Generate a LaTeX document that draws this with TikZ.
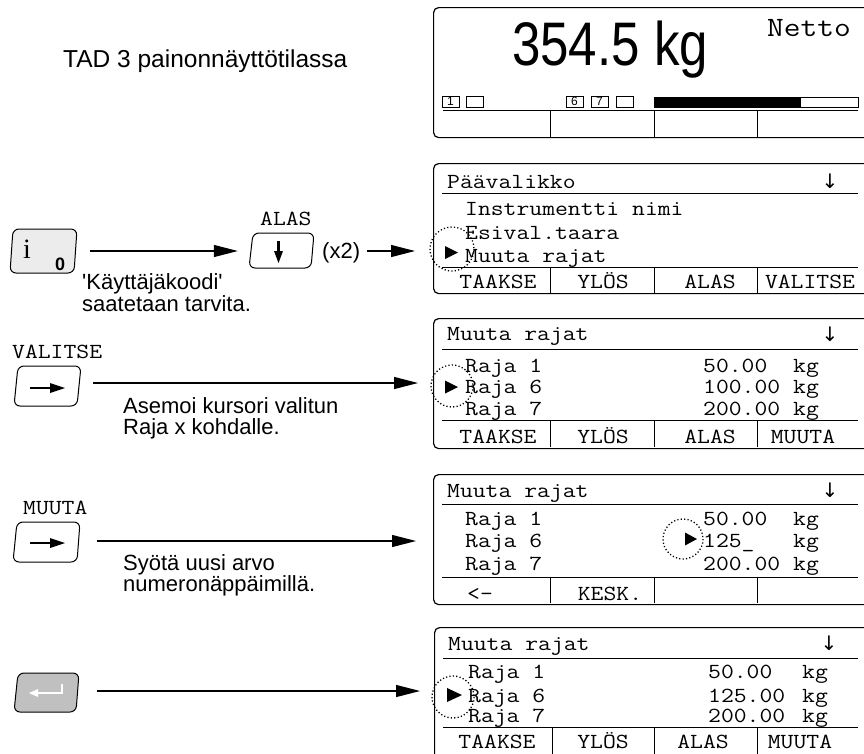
\documentclass[tikz,border=0pt]{standalone}
\usepackage{fontspec}
\setmainfont{Liberation Sans}[Ligatures=TeXOff]
\newfontfamily\serifi{Liberation Serif}
\newfontfamily\arrowfont{DejaVu Sans}
\usetikzlibrary{arrows.meta}
\definecolor{keylight}{RGB}{236,236,236}
\definecolor{keydark}{RGB}{192,192,192}
\newcommand\mt[1]{\scalebox{1.16}[1]{#1}}
\begin{document}
\begin{tikzpicture}[x=1pt,y=-1pt,
  mono/.style={font=\fontsize{21.5}{21.5}\selectfont\ttfamily, inner sep=0pt, anchor=base west},
  monoc/.style={mono, anchor=base},
  sans/.style={font=\fontsize{22}{22}\selectfont, inner sep=0pt, anchor=base west},
  disp/.style={draw, line width=1.2pt, rounded corners=5pt, inner sep=0pt, anchor=north west, minimum width=460pt, minimum height=130pt},
  rule/.style={line width=0.9pt},
  conn/.style={line width=1.2pt, -{Triangle[length=24pt,width=12pt]}},
  ring/.style={line width=1.3pt, dash pattern=on 1.2pt off 2.2pt},
  keyframe/.style={line width=1pt, rounded corners=6pt},
  keynode/.style={inner sep=0pt, minimum width=62pt, minimum height=40pt},
  sbox/.style={draw, line width=0.8pt, inner sep=0pt, minimum width=17pt, minimum height=11pt, font=\fontsize{12}{12}\selectfont},
  ar/.style={font=\arrowfont\fontsize{20}{20}\selectfont, inner sep=0pt, anchor=base}
]
\useasboundingbox (0,0) rectangle (864,753);
\clip (0,0) rectangle (864,753);

% ---------- title
\node[font=\fontsize{24.5}{24.5}\selectfont, inner sep=0pt, anchor=base west] (title) at (63,67) {TAD 3 painonnäyttötilassa};

% ---------- display 1
\node[disp] (d1) at (433,7) {};
\node[font=\fontsize{61.5}{61.5}\selectfont, inner sep=0pt, anchor=base west] (weight) at (512,65) {\scalebox{0.83}[1]{354.5 kg}};
\node[font=\fontsize{28}{28}\selectfont\ttfamily, inner sep=0pt, anchor=base west] (netto) at (767,36) {\mt{Netto}};
\node[sbox] (b1) at (450.5,101.5) {1};
\node[sbox] (b2) at (475,101.5) {};
\node[sbox] (b6) at (574.5,101.5) {6};
\node[sbox] (b7) at (599.5,101.5) {7};
\node[sbox] (b8) at (624.5,101.5) {};
\draw[line width=0.8pt] (654,97) rectangle (858,107);
\fill (654,97) rectangle (801,107);
\draw[rule] (443,110) -- (858,110);
\foreach \x in {550,654,757} \draw[rule] (\x,110) -- (\x,137);

% ---------- display 2
\node[disp] (d2) at (433,163) {};
\draw[rule] (442,193) -- (858,193);
\draw[rule] (442,267) -- (858,267);
\foreach \x in {550,654,757} \draw[rule] (\x,267) -- (\x,293);
\node[mono] (d2h) at (447,188) {\mt{Päävalikko}};
\node[ar] (d2a) at (830,188) {↓};
\node[mono] (d2r1) at (465,215) {\mt{Instrumentti nimi}};
\node[mono] (d2r2) at (465,239) {\mt{Esival.taara}};
\node[mono] (d2r3) at (465,262) {\mt{Muuta rajat}};
\node[monoc] (d2f1) at (498,288) {\mt{TAAKSE}};
\node[monoc] (d2f2) at (603,288) {\mt{YLÖS}};
\node[monoc] (d2f3) at (710,288) {\mt{ALAS}};
\node[monoc] (d2f4) at (810,288) {\mt{VALITSE}};
\fill (445,246) -- (458,252.5) -- (445,259) -- cycle;
\draw[ring] (452,249) circle[radius=22];

% ---------- display 3
\node[disp] (d3) at (433,318) {};
\draw[rule] (442,349) -- (858,349);
\draw[rule] (442,420) -- (858,420);
\foreach \x in {550,654,757} \draw[rule] (\x,420) -- (\x,447);
\node[mono] (d3h) at (447,340) {\mt{Muuta rajat}};
\node[ar] (d3a) at (830,341) {↓};
\node[mono] (d3r1) at (465,372) {\mt{Raja 1}};
\node[mono] (d3r2) at (465,393) {\mt{Raja 6}};
\node[mono] (d3r3) at (465,415) {\mt{Raja 7}};
\node[mono] (d3v1) at (703,372) {\mt{50.00}};
\node[mono] (d3v2) at (703,393) {\mt{100.00}};
\node[mono] (d3v3) at (703,415) {\mt{200.00}};
\node[mono] (d3k1) at (793,372) {\mt{kg}};
\node[mono] (d3k2) at (793,393) {\mt{kg}};
\node[mono] (d3k3) at (793,415) {\mt{kg}};
\node[monoc] (d3f1) at (498,443) {\mt{TAAKSE}};
\node[monoc] (d3f2) at (603,443) {\mt{YLÖS}};
\node[monoc] (d3f3) at (710,443) {\mt{ALAS}};
\node[monoc] (d3f4) at (803,443) {\mt{MUUTA}};
\fill (445,380.5) -- (458,387) -- (445,393.5) -- cycle;
\draw[ring] (452,386) circle[radius=21];

% ---------- display 4
\node[disp] (d4) at (433,474) {};
\draw[rule] (442,504) -- (858,504);
\draw[rule] (442,577) -- (858,577);
\foreach \x in {550,654,757} \draw[rule] (\x,577) -- (\x,603);
\node[mono] (d4h) at (447,497) {\mt{Muuta rajat}};
\node[ar] (d4a) at (830,497) {↓};
\node[mono] (d4r1) at (465,525) {\mt{Raja 1}};
\node[mono] (d4r2) at (465,547) {\mt{Raja 6}};
\node[mono] (d4r3) at (465,570) {\mt{Raja 7}};
\node[mono] (d4v1) at (703,525) {\mt{50.00}};
\node[mono] (d4v2) at (703,547) {\mt{125\_}};
\node[mono] (d4v3) at (703,570) {\mt{200.00}};
\node[mono] (d4k1) at (793,525) {\mt{kg}};
\node[mono] (d4k2) at (793,547) {\mt{kg}};
\node[mono] (d4k3) at (793,570) {\mt{kg}};
\node[monoc] (d4f1) at (480,600) {\mt{<-}};
\node[monoc] (d4f2) at (610,600) {\mt{KESK.}};
\fill (685,532.5) -- (697,539) -- (685,545.5) -- cycle;
\draw[ring] (683,539) circle[radius=20];

% ---------- display 5
\node[disp, minimum height=170pt] (d5) at (434,627) {};
\draw[rule] (443,658) -- (858,658);
\draw[rule] (443,727) -- (858,727);
\foreach \x in {552,654,757} \draw[rule] (\x,727) -- (\x,760);
\node[mono] (d5h) at (448,650) {\mt{Muuta rajat}};
\node[ar] (d5a) at (829,650) {↓};
\node[mono] (d5r1) at (468,678) {\mt{Raja 1}};
\node[mono] (d5r2) at (468,702) {\mt{Raja 6}};
\node[mono] (d5r3) at (468,722) {\mt{Raja 7}};
\node[mono] (d5v1) at (708,678) {\mt{50.00}};
\node[mono] (d5v2) at (708,702) {\mt{125.00}};
\node[mono] (d5v3) at (708,722) {\mt{200.00}};
\node[mono] (d5k1) at (802,678) {\mt{kg}};
\node[mono] (d5k2) at (802,702) {\mt{kg}};
\node[mono] (d5k3) at (802,722) {\mt{kg}};
\node[monoc] (d5f1) at (497,748) {\mt{TAAKSE}};
\node[monoc] (d5f2) at (603,748) {\mt{YLÖS}};
\node[monoc] (d5f3) at (703,748) {\mt{ALAS}};
\node[monoc] (d5f4) at (800,748) {\mt{MUUTA}};
\fill (447,688) -- (462,695) -- (447,702) -- cycle;
\draw[ring] (453,697) circle[radius=21];

% ---------- keys
% key 1 (i 0)
\draw[keyframe, fill=keylight] (10,273) -- (13,229) -- (77,229) -- (74,273) -- cycle;
\node[keynode] (k1) at (43.5,251) {};
\node[font=\serifi\fontsize{28}{28}\selectfont, inner sep=0pt, anchor=base west] (k1i) at (23,258) {i};
\node[font=\bfseries\fontsize{18}{18}\selectfont, inner sep=0pt, anchor=base west] (k1o) at (55,270) {0};
% key 2 (ALAS)
\draw[keyframe, fill=white] (249,268) -- (253,233) -- (314,233) -- (311,268) -- cycle;
\node[keynode] (k2) at (281.5,250.5) {};
\draw[line width=3pt] (278.5,241) -- (278.5,254);
\fill (274,251) -- (283,251) -- (278.5,263) -- cycle;
\node[mono] (k2l) at (260,225) {\mt{ALAS}};
\node[sans] (x2) at (322,258) {(x2)};
% key 3 (VALITSE)
\draw[keyframe, fill=white] (14,406) -- (18,366) -- (81,366) -- (77,406) -- cycle;
\node[keynode] (k3) at (47.5,386) {};
\draw[line width=2.8pt] (30,388) -- (52,388);
\fill (50,383) -- (65,388) -- (50,393) -- cycle;
\node[mono] (k3l) at (12,358) {\mt{VALITSE}};
% key 4 (MUUTA)
\draw[keyframe, fill=white] (13,562) -- (17,522) -- (80,522) -- (77,562) -- cycle;
\node[keynode] (k4) at (47,542) {};
\draw[line width=2.8pt] (30,543) -- (52,543);
\fill (50,538) -- (65,543) -- (50,548) -- cycle;
\node[mono] (k4l) at (23,514) {\mt{MUUTA}};
% key 5 (enter)
\draw[keyframe, fill=keydark] (14,712) -- (18,673) -- (79,673) -- (76,712) -- cycle;
\node[keynode] (k5) at (46.5,692.5) {};
\draw[white, line width=1.6pt] (62,684) -- (62,693) -- (37,693);
\fill[white] (38,689) -- (29,693) -- (38,697) -- cycle;

% ---------- texts
\node[sans] (t1) at (82,289) {'Käyttäjäkoodi'};
\node[sans] (t2) at (82,311) {saatetaan tarvita.};
\node[sans] (t3) at (123,413) {Asemoi kursori valitun};
\node[sans] (t4) at (123,434) {Raja x kohdalle.};
\node[sans] (t5) at (123,570) {Syötä uusi arvo};
\node[sans] (t6) at (123,591) {numeronäppäimillä.};

% ---------- connectors
\coordinate (s1) at (90,251);
\draw[conn, shorten >=12.5pt] (s1) -- (s1 -| k2.west);
\coordinate (s2) at (367,251);
\draw[conn, shorten >=18pt] (s2) -- (s2 -| d2.west);
\coordinate (s3) at (93,383);
\draw[conn, shorten >=15pt] (s3) -- (s3 -| d3.west);
\coordinate (s4) at (97,541);
\draw[conn, shorten >=17pt] (s4) -- (s4 -| d4.west);
\coordinate (s5) at (97,691);
\draw[conn, shorten >=14pt] (s5) -- (s5 -| d5.west);
\end{tikzpicture}
\end{document}
